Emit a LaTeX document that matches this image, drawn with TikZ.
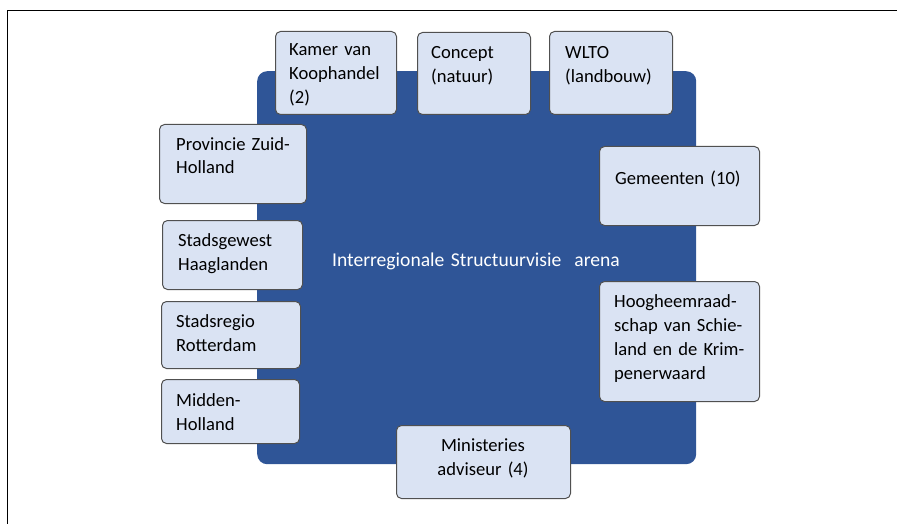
\documentclass[tikz,border=0pt]{standalone}
\usepackage{fontspec}
\setmainfont{Carlito}
\definecolor{arenablue}{HTML}{2F5597}
\definecolor{boxfill}{HTML}{DAE3F3}
\definecolor{boxline}{HTML}{505050}
\begin{document}
\begin{tikzpicture}[line cap=round,line join=round,x=1pt,y=-1pt,
  box/.style={draw=boxline,fill=boxfill,line width=1pt,rounded corners=5pt,anchor=north west,inner sep=0pt},
  txt/.style={anchor=base west,align=left,text width=150pt,inner sep=0pt,font=\fontsize{18.6}{24}\selectfont}]
\useasboundingbox (0,0) rectangle (897,524);
\draw[line width=1pt] (897,11)--(7,11)--(7,524);
\node[fill=arenablue,rounded corners=10pt,anchor=north west,minimum width=439pt,minimum height=393pt,inner sep=0pt] (arena) at (257,71) {};
\node[txt,anchor=base,align=center,text width=320pt,text=white,font=\fontsize{19.6}{24}\selectfont] (arenatxt) at (476,266) {Interregionale Structuurvisie~ arena};
% top row
\node[box,minimum width=121pt,minimum height=83pt] (kamer) at (275,31) {};
\node[txt] (kamertxt) at (289,56) {Kamer van\\Koophandel\\(2)};
\node[box,minimum width=113pt,minimum height=82pt] (concept) at (417,32) {};
\node[txt] (concepttxt) at (431,59) {Concept\\(natuur)};
\node[box,minimum width=123pt,minimum height=83pt] (wlto) at (549,31) {};
\node[txt] (wltotxt) at (565,59) {WLTO\\(landbouw)};
% left column
\node[box,minimum width=147pt,minimum height=79pt] (provincie) at (159,124) {};
\node[txt] (provincietxt) at (176,150) {Provincie Zuid-\\Holland};
\node[box,minimum width=140pt,minimum height=69pt] (haaglanden) at (162,220) {};
\node[txt] (haaglandentxt) at (178,246) {Stadsgewest\\Haaglanden};
\node[box,minimum width=139pt,minimum height=67pt] (rotterdam) at (161,301) {};
\node[txt] (rotterdamtxt) at (176,327) {Stadsregio\\Rotterdam};
\node[box,minimum width=138pt,minimum height=64pt] (midden) at (161,379) {};
\node[txt] (middentxt) at (176,406) {Midden-\\Holland};
% bottom
\node[box,minimum width=174pt,minimum height=73pt] (ministeries) at (396,425) {};
\node[txt,anchor=base,align=center,text width=174pt] (ministeriestxt) at (483,451) {Ministeries\\adviseur (4)};
% right column
\node[box,minimum width=160pt,minimum height=79pt] (gemeenten) at (599,146) {};
\node[txt] (gemeententxt) at (615,184) {Gemeenten (10)};
\node[box,minimum width=160pt,minimum height=120pt] (hoogheemraad) at (599,281) {};
\node[txt] (hoogheemraadtxt) at (614,307) {Hoogheemraad-\\schap van Schie-\\land en de Krim-\\penerwaard};
\end{tikzpicture}
\end{document}
